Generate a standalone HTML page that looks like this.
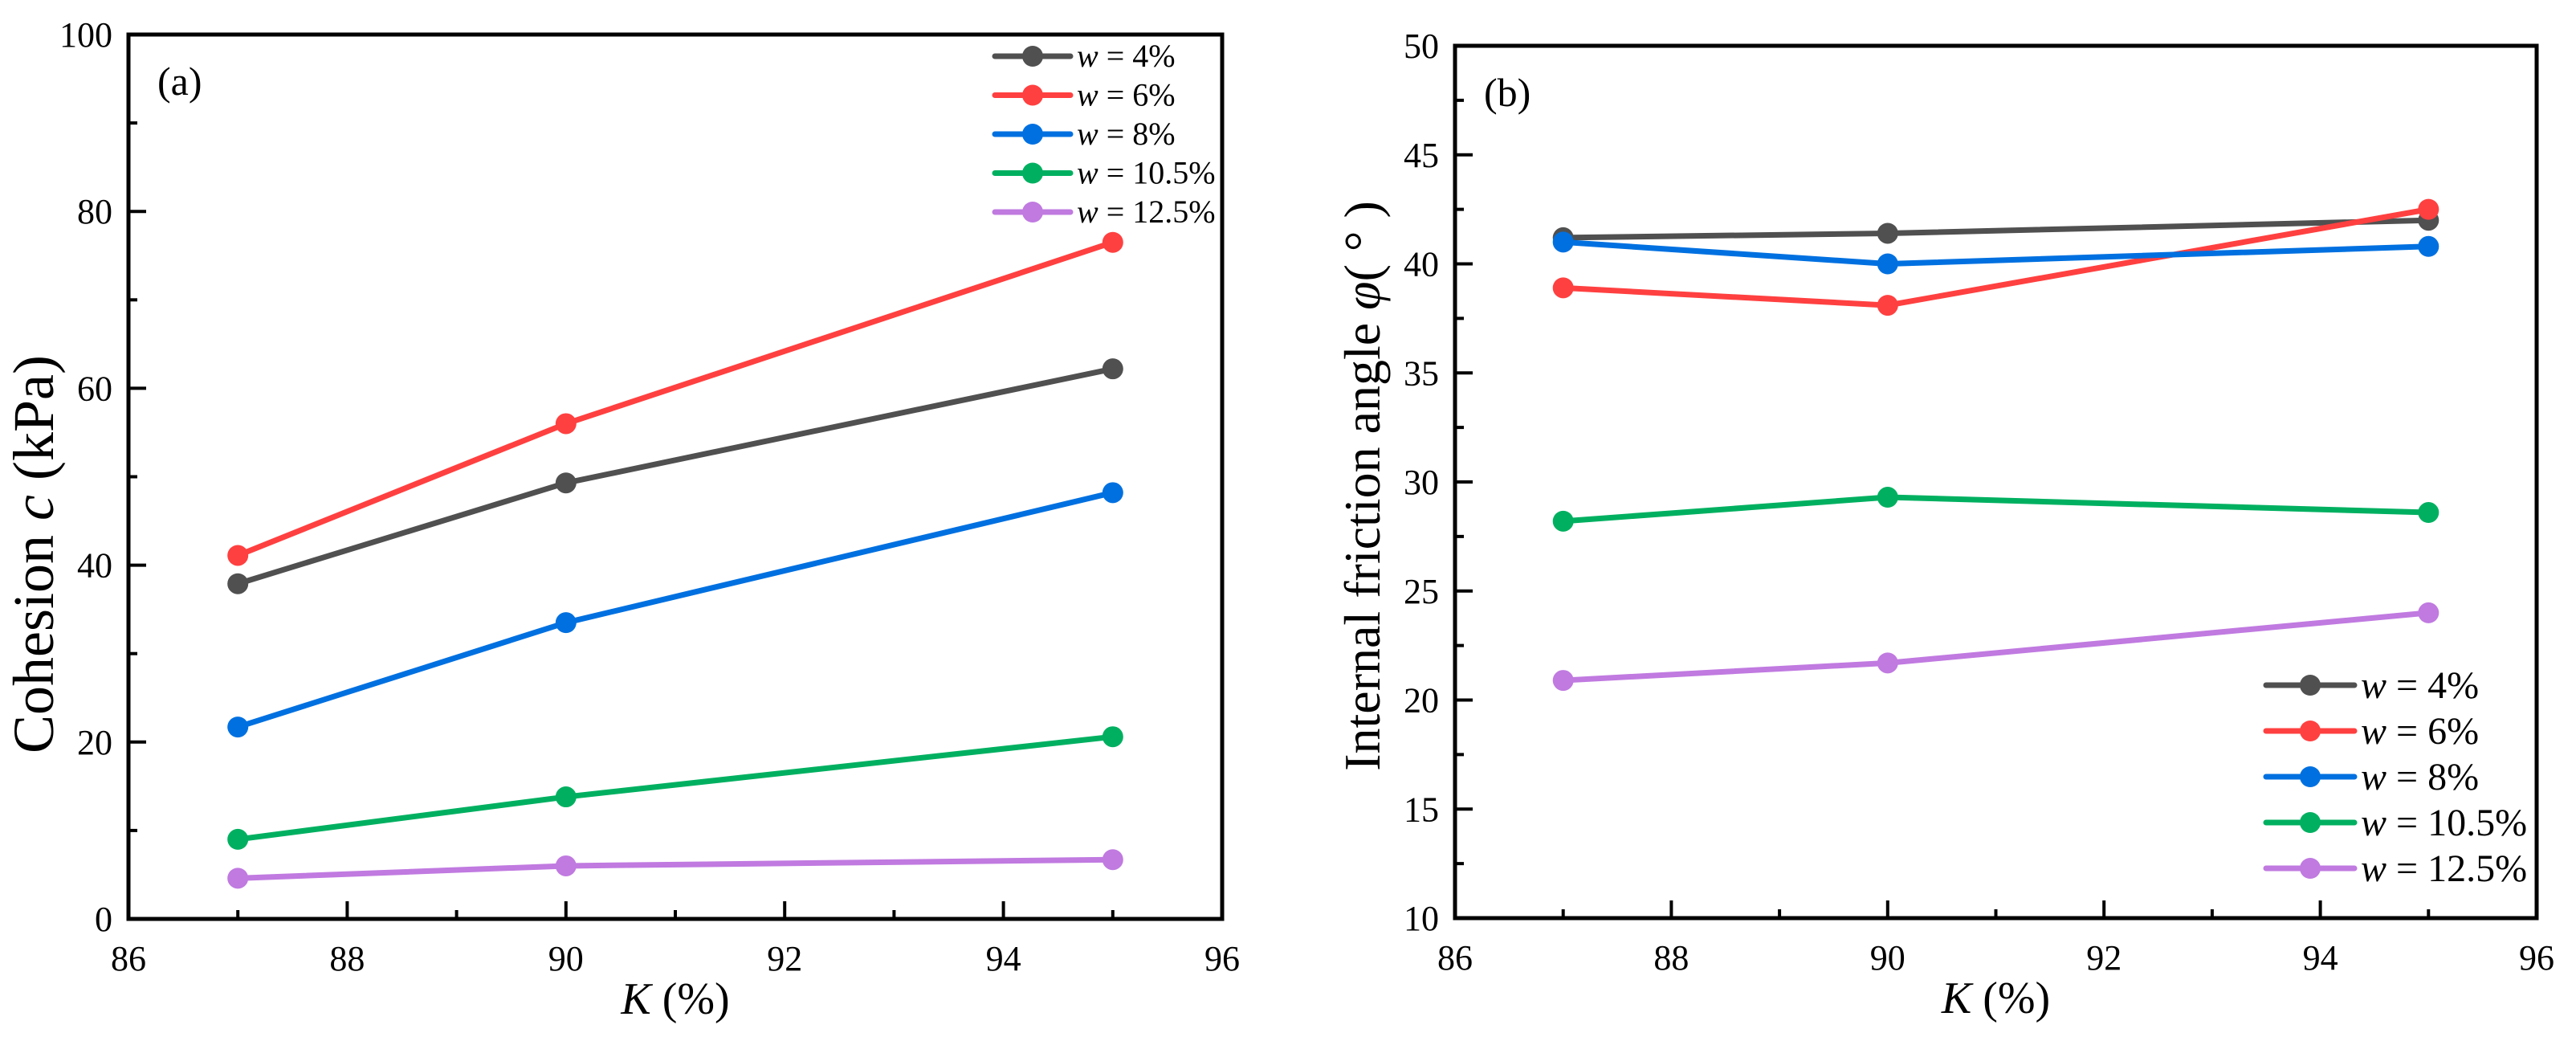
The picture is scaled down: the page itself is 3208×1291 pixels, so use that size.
<!DOCTYPE html>
<html><head><meta charset="utf-8"><style>
html,body{margin:0;padding:0;background:#fff;}
svg{display:block;font-family:"Liberation Serif",serif;}
</style></head><body>
<svg id="fig" width="3208" height="1291" viewBox="0 0 3208 1291"></svg>
<script>
const categoriesK=[87,90,95];
const seriesNames=["w = 4%","w = 6%","w = 8%","w = 10.5%","w = 12.5%"];
const seriesColors=["#505050","#ff4040","#0070e0","#00b060","#c07ae0"];
const cohesion4=[37.9,49.3,62.2];
const cohesion6=[41.1,56.0,76.5];
const cohesion8=[21.7,33.5,48.2];
const cohesion105=[9.0,13.8,20.6];
const cohesion125=[4.6,6.0,6.7];
const friction4=[41.2,41.4,42.0];
const friction6=[38.9,38.1,42.5];
const friction8=[41.0,40.0,40.8];
const friction105=[28.2,29.3,28.6];
const friction125=[20.9,21.7,24.0];
const xTicks=[86,88,90,92,94,96];
const yTicksA=[0,20,40,60,80,100];
const yTicksB=[10,15,20,25,30,35,40,45,50];

const NS="http://www.w3.org/2000/svg";
const svg=document.getElementById('fig');
function mk(tag,attrs,parent,text){const e=document.createElementNS(NS,tag);for(const k in attrs)e.setAttribute(k,attrs[k]);if(text!==undefined)e.textContent=text;(parent||svg).appendChild(e);return e;}

function panel(cfg){
  const g=mk('g',{});
  
  
  const {x0,x1,y0,y1,xmin,xmax,ymin,ymax}=cfg;
  const sx=v=>x0+(v-xmin)/(xmax-xmin)*(x1-x0);
  const sy=v=>y1-(v-ymin)/(ymax-ymin)*(y1-y0);
  for(let v=xmin;v<=xmax;v+=1){
    const major=(v-xmin)%2===0;
    const t=mk('line',{x1:sx(v),x2:sx(v),y1:y1,y2:y1-(major?22:11),stroke:'#000','stroke-width':4},g);
    
    
  }
  xTicks.forEach(v=>{
    const t=mk('text',{x:sx(v),y:y1+64,'text-anchor':'middle','font-size':44},g,String(v));
    
    
  });
  const ystep=cfg.yticks[1]-cfg.yticks[0];
  for(let v=ymin;v<=ymax+1e-9;v+=ystep/2){
    const major=Math.abs(((v-ymin)/ystep)-Math.round((v-ymin)/ystep))<1e-6;
    const t=mk('line',{x1:x0,x2:x0+(major?22:11),y1:sy(v),y2:sy(v),stroke:'#000','stroke-width':4},g);
    
    
  }
  cfg.yticks.forEach(v=>{
    const t=mk('text',{x:x0-20,y:sy(v)+15,'text-anchor':'end','font-size':44},g,String(v));
    
    
  });
  const fr=mk('rect',{x:x0,y:y0,width:x1-x0,height:y1-y0,fill:'none',stroke:'#000','stroke-width':5},g);
  
  
  cfg.series.forEach((vals,i)=>{
    const sg=mk('g',{},g);
    
    
    const pts=vals.map((v,j)=>sx(categoriesK[j])+','+sy(v)).join(' ');
    const pl=mk('polyline',{points:pts,fill:'none',stroke:seriesColors[i],'stroke-width':7,'stroke-linejoin':'round'},sg);
    
    
    vals.forEach((v,j)=>{
      const c=mk('circle',{cx:sx(categoriesK[j]),cy:sy(v),r:13,fill:seriesColors[i]},sg);
      
      
    });
  });
  const lg=mk('g',{},g);
  
  
  seriesNames.forEach((n,i)=>{
    const yy=cfg.leg.y+i*cfg.leg.step;
    const e=mk('g',{},lg);
    
    
    mk('line',{x1:cfg.leg.x,x2:cfg.leg.x+cfg.leg.len,y1:yy,y2:yy,stroke:seriesColors[i],'stroke-width':7,'stroke-linecap':'round'},e);
    mk('circle',{cx:cfg.leg.x+cfg.leg.len/2,cy:yy,r:13,fill:seriesColors[i]},e);
    const t=mk('text',{x:cfg.leg.x+cfg.leg.len+8,y:yy+cfg.leg.fs*0.33,'font-size':cfg.leg.fs},e);
    mk('tspan',{'font-style':'italic'},t,'w');
    mk('tspan',{},t,n.slice(1));
  });
  const pl=mk('text',{x:x0+36,y:y0+75,'font-size':50},g,cfg.label);
  
  
  const xt=mk('text',{x:(x0+x1)/2,y:y1+118,'text-anchor':'middle','font-size':56},g);
  
  
  mk('tspan',{'font-style':'italic'},xt,'K');
  mk('tspan',{},xt,' (%)');
  const yt=mk('text',{x:0,y:0,'text-anchor':'middle','font-size':cfg.ytfs,transform:`translate(${cfg.ytx},${cfg.yty}) rotate(-90)`},g);
  
  
  cfg.ytitle.forEach(p=>mk('tspan',p[1]?{'font-style':'italic'}:{},yt,p[0]));
}

panel({name:'panel-a-cohesion',x0:160,x1:1522,y0:43,y1:1144,xmin:86,xmax:96,ymin:0,ymax:100,yticks:yTicksA,
  series:[cohesion4,cohesion6,cohesion8,cohesion105,cohesion125],
  leg:{x:1239,len:94,y:70,step:48.5,fs:40},label:'(a)',ytx:66,yty:690,ytfs:72,
  ytitle:[['Cohesion ',false],['c',true],[' (kPa)',false]]});
panel({name:'panel-b-friction',x0:1812,x1:3159,y0:57,y1:1143,xmin:86,xmax:96,ymin:10,ymax:50,yticks:yTicksB,
  series:[friction4,friction6,friction8,friction105,friction125],
  leg:{x:2822,len:110,y:853,step:57,fs:48},label:'(b)',ytx:1718,yty:605,ytfs:64,
  ytitle:[['Internal friction angle ',false],['φ',true],['( ° )',false]]});
</script>
</body></html>
